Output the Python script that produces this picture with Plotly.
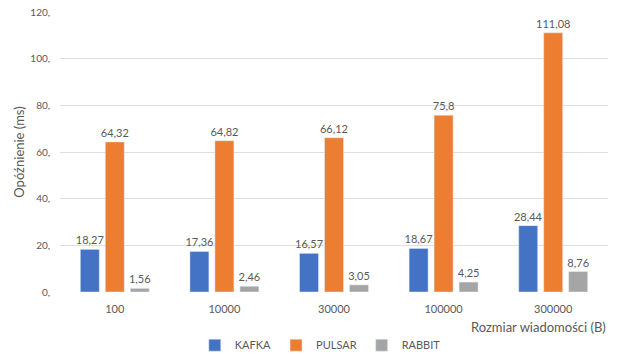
import plotly.graph_objects as go

categories = ["100", "10000", "30000", "100000", "300000"]
kafka = [18.27, 17.36, 16.57, 18.67, 28.44]
pulsar = [64.32, 64.82, 66.12, 75.8, 111.08]
rabbit = [1.56, 2.46, 3.05, 4.25, 8.76]
series_names = ["KAFKA", "PULSAR", "RABBIT"]
series_colors = ["#4472C4", "#ED7D31", "#A5A5A5"]
y_ticks = [0, 20, 40, 60, 80, 100, 120]
y_tick_labels = ["0,", "20,", "40,", "60,", "80,", "100,", "120,"]


def fmt(v):
    s = ("%.2f" % v).rstrip("0").rstrip(".")
    return s.replace(".", ",")


FONT = "Lato, Open Sans, sans-serif"
fig = go.Figure()
for name, vals, col in zip(series_names, [kafka, pulsar, rabbit], series_colors):
    fig.add_trace(go.Bar(
        name=name, x=categories, y=vals, marker_color=col,
        text=[fmt(v) for v in vals], textposition="outside",
        textangle=0, constraintext="none",
        textfont=dict(size=11, color="#595959", family=FONT),
        cliponaxis=False,
    ))

fig.update_layout(
    width=625, height=354,
    margin=dict(l=60, r=17, t=12, b=62, autoexpand=False),
    paper_bgcolor="white", plot_bgcolor="white",
    barmode="group", bargap=0.316, bargroupgap=0.24,
    font=dict(family=FONT, color="#595959", size=11),
    legend=dict(orientation="h", x=0.475, xanchor="center", yref="container",
                y=0.025, yanchor="middle",
                font=dict(size=11, color="#595959"), itemwidth=30,
                traceorder="normal"),
    xaxis=dict(type="category", showgrid=False, showline=False, ticks="",
               tickfont=dict(size=11, color="#595959"), ticklabelstandoff=9),
    yaxis=dict(range=[0, 120], tickvals=y_ticks, ticktext=y_tick_labels,
               showgrid=True, gridcolor="#DEDEDE", gridwidth=1, zeroline=False,
               showline=False, ticks="", tickfont=dict(size=10, color="#595959"),
               ticklabelstandoff=9,
               title=dict(text="Opóźnienie (ms)", font=dict(size=13, color="#595959"), standoff=2)),
)
fig.add_annotation(text="Rozmiar wiadomości (B)", xref="paper", yref="paper",
                   x=1, y=0, xanchor="right", yanchor="middle", yshift=-35,
                   showarrow=False, font=dict(size=13, color="#595959", family=FONT))
fig.write_html("out.html")
